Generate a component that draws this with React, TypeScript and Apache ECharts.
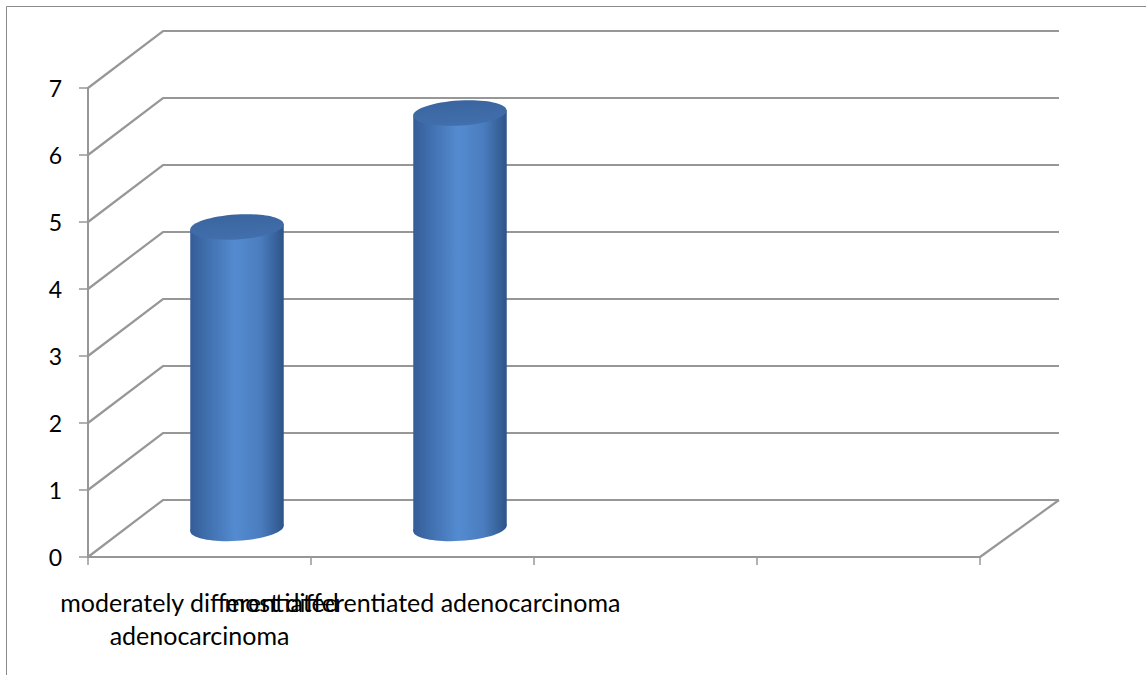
import React, { useEffect, useRef } from "react";
import * as echarts from "echarts";

const categories = [
  "moderately differentiated\nadenocarcinoma",
  "most differentiated adenocarcinoma",
  "",
  "",
];
const values = [4.5, 6.2];
const yTicks = [0, 1, 2, 3, 4, 5, 6, 7];

const DX = 75;
const DX2 = 79;
const DY = -57;
const GRID_COLOR = "#979797";
const FONT = "Lato";

export default function App() {
  const ref = useRef<HTMLDivElement>(null);
  useEffect(() => {
    const chart = echarts.init(ref.current!, null, { renderer: "svg" });
    const bodyGrad = () =>
      new echarts.graphic.LinearGradient(0, 0, 1, 0, [
        { offset: 0, color: "#355d97" },
        { offset: 0.18, color: "#406fae" },
        { offset: 0.48, color: "#548bd0" },
        { offset: 0.75, color: "#4a7dbf" },
        { offset: 1, color: "#2e5488" },
      ]);
    chart.setOption({
      animation: false,
      graphic: [
        {
          type: "rect",
          shape: { x: 6.5, y: 6.5, width: 1300, height: 800 },
          style: { fill: "none", stroke: "#8a8a8a", lineWidth: 1 },
          silent: true,
        },
      ],
      grid: { left: 88, right: 166, top: 88, bottom: 118, containLabel: false },
      xAxis: {
        type: "category",
        data: categories,
        boundaryGap: true,
        axisLine: { show: true, lineStyle: { color: GRID_COLOR, width: 2 } },
        axisTick: { show: true, length: 8, lineStyle: { color: GRID_COLOR, width: 1.5 } },
        axisLabel: {
          interval: 0,
          margin: 28,
          color: "#000",
          fontFamily: FONT,
          fontSize: 25,
          lineHeight: 33,
          align: "center",
        },
        splitLine: { show: false },
      },
      yAxis: {
        type: "value",
        min: 0,
        max: 7,
        interval: 1,
        axisLine: { show: true, lineStyle: { color: GRID_COLOR, width: 2 } },
        axisTick: { show: true, length: 9, lineStyle: { color: GRID_COLOR, width: 1.5 } },
        axisLabel: { margin: 26, color: "#000", fontFamily: FONT, fontSize: 23 },
        splitLine: { show: false },
      },
      series: [
        {
          type: "custom",
          z: 1,
          silent: true,
          data: yTicks.map((v) => [0, v]),
          renderItem: (params: any, api: any) => {
            const cs = params.coordSys;
            const v = api.value(1);
            const y = api.coord([0, v])[1];
            const x0 = cs.x;
            const x1 = cs.x + cs.width;
            const children: any[] = [
              {
                type: "polyline",
                shape: { points: [[x0, y], [x0 + DX, y + DY], [x1 + DX2, y + DY]] },
                style: { stroke: GRID_COLOR, lineWidth: 2.2, fill: "none" },
              },
            ];
            if (v === 0) {
              children.push({
                type: "line",
                shape: { x1: x1, y1: y, x2: x1 + DX2, y2: y + DY },
                style: { stroke: GRID_COLOR, lineWidth: 2.2 },
              });
            }
            return { type: "group", children };
          },
        },
        {
          type: "custom",
          z: 3,
          data: values.map((v, i) => [i, v]),
          renderItem: (params: any, api: any) => {
            const i = api.value(0);
            const v = api.value(1);
            const base = api.coord([i, 0]);
            const top = api.coord([i, v]);
            const cx = base[0] + DX / 2;
            const y0 = base[1] + DY / 2;
            const y1 = top[1] + DY / 2;
            const w = api.size([1, 0])[0] * 0.42;
            const rx = w / 2;
            const ry = 12.5;
            const ang = 0.06;
            const dxr = rx * Math.cos(ang);
            const dyr = rx * Math.sin(ang);
            return {
              type: "group",
              children: [
                {
                  type: "ellipse",
                  shape: { cx, cy: y0, rx, ry },
                  rotation: ang,
                  originX: cx,
                  originY: y0,
                  style: { fill: bodyGrad() },
                },
                {
                  type: "polygon",
                  shape: {
                    points: [
                      [cx - dxr, y1 + dyr],
                      [cx + dxr, y1 - dyr],
                      [cx + dxr, y0 - dyr],
                      [cx - dxr, y0 + dyr],
                    ],
                  },
                  style: { fill: bodyGrad() },
                },
                {
                  type: "ellipse",
                  shape: { cx, cy: y1, rx, ry },
                  rotation: ang,
                  originX: cx,
                  originY: y1,
                  style: {
                    fill: new echarts.graphic.LinearGradient(0, 0, 0, 1, [
                      { offset: 0, color: "#3a659f" },
                      { offset: 1, color: "#426fad" },
                    ]),
                  },
                },
              ],
            };
          },
        },
      ],
    });
    return () => chart.dispose();
  }, []);
  return (
    <div
      ref={ref}
      style={{ position: "fixed", left: 0, top: 0, width: 1146, height: 675, background: "#fff" }}
    />
  );
}
